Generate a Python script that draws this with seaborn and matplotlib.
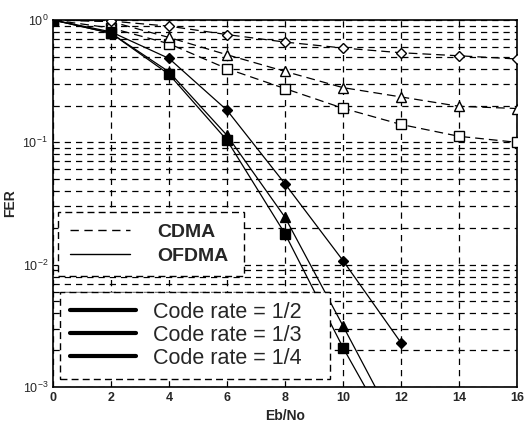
import numpy as np
import pandas as pd
import matplotlib
matplotlib.use("Agg")
import matplotlib.pyplot as plt
from matplotlib.lines import Line2D
from matplotlib.ticker import LogLocator, LogFormatterSciNotation, NullFormatter
import seaborn as sns

ebno = [0, 2, 4, 6, 8, 10, 12, 14, 16]
cdma_r12 = [1.0, 0.86, 0.64, 0.40, 0.275, 0.19, 0.14, 0.112, 0.10]
cdma_r13 = [1.0, 0.97, 0.72, 0.52, 0.38, 0.28, 0.235, 0.197, 0.189]
cdma_r14 = [1.0, 0.98, 0.89, 0.76, 0.66, 0.59, 0.54, 0.51, 0.48]

ofdma_x = [0, 2, 4, 6, 8, 10, 12]
ofdma_r12 = [1.0, 0.78, 0.36, 0.104, 0.0179, 0.0021, 0.0003]
ofdma_r13 = [1.0, 0.78, 0.377, 0.114, 0.0244, 0.00316, 0.0004]
ofdma_r14 = [1.0, 0.80, 0.485, 0.183, 0.0458, 0.0108, 0.0023]

xticks = [0, 2, 4, 6, 8, 10, 12, 14, 16]

sns.set_style("white")
plt.rcParams["font.family"] = ["Liberation Sans", "DejaVu Sans"]

fig = plt.figure(figsize=(5.26, 4.30), dpi=100)
ax = fig.add_axes([53/526, 1-387/430, 464/526, 367/430])

rows = []
for name, vals in [("c12", cdma_r12), ("c13", cdma_r13), ("c14", cdma_r14)]:
    for x, v in zip(ebno, vals):
        rows.append((name, x, v))
for name, vals in [("o12", ofdma_r12), ("o13", ofdma_r13), ("o14", ofdma_r14)]:
    for x, v in zip(ofdma_x, vals):
        rows.append((name, x, v))
df = pd.DataFrame(rows, columns=["series", "ebno", "fer"])

dash = (0, (7, 4))
styles = {
    "c12": dict(marker="s", ls=dash, mfc="white", ms=6.5),
    "c13": dict(marker="^", ls=dash, mfc="white", ms=6.5),
    "c14": dict(marker="D", ls=dash, mfc="white", ms=5),
    "o12": dict(marker="s", ls="-", mfc="black", ms=6.5),
    "o13": dict(marker="^", ls="-", mfc="black", ms=6.5),
    "o14": dict(marker="D", ls="-", mfc="black", ms=5),
}
for name, st in styles.items():
    sub = df[df.series == name]
    sns.lineplot(data=sub, x="ebno", y="fer", ax=ax, color="black", lw=0.9,
                 marker=st["marker"], linestyle=st["ls"], markerfacecolor=st["mfc"],
                 markeredgecolor="black", markeredgewidth=1.0, markersize=st["ms"],
                 estimator=None, sort=False, legend=False, zorder=3)

ax.set_yscale("log")
ax.set_xlim(0, 16)
ax.set_ylim(1e-3, 1)
ax.set_xticks(xticks)
ax.set_xticklabels([str(t) for t in xticks], fontweight="bold", fontsize=9)
ax.yaxis.set_major_locator(LogLocator(base=10, numticks=10))
ax.yaxis.set_minor_locator(LogLocator(base=10, subs=np.arange(2, 10), numticks=20))
ax.yaxis.set_minor_formatter(NullFormatter())
ax.yaxis.set_major_formatter(LogFormatterSciNotation())
for lab in ax.get_yticklabels():
    lab.set_fontsize(9)
ax.grid(True, which="major", color="black", linestyle=(0, (5, 4)), linewidth=0.9)
ax.grid(True, which="minor", axis="y", color="black", linestyle=(0, (5, 4)), linewidth=0.9)
ax.tick_params(which="both", direction="in", length=3, color="black")
for s in ax.spines.values():
    s.set_color("black")
    s.set_linewidth(1.2)
ax.set_xlabel("Eb/No", fontweight="bold", fontsize=10)
ax.set_ylabel("FER", fontweight="bold", fontsize=10)

h1 = [Line2D([], [], color="black", lw=1.0, ls=(0, (6, 4))),
      Line2D([], [], color="black", lw=1.0, ls="-")]
leg1 = ax.legend(h1, ["CDMA", "OFDMA"], loc="upper left",
                 bbox_to_anchor=(0.011, 0.297, 0.40, 0.18), mode="expand",
                 prop=dict(weight="bold", size=14), handlelength=3.1, fancybox=False,
                 framealpha=1, edgecolor="black", borderpad=0.6, labelspacing=0.3,
                 handletextpad=1.4, borderaxespad=0)
leg1.get_frame().set_linestyle((0, (5, 3)))
leg1.get_frame().set_linewidth(1.0)
ax.add_artist(leg1)

h2 = [Line2D([], [], color="black", lw=3.0, ls="-") for _ in range(3)]
leg2 = ax.legend(h2, ["Code rate = 1/2", "Code rate = 1/3", "Code rate = 1/4"],
                 loc="upper left", bbox_to_anchor=(0.015, 0.019, 0.582, 0.24), mode="expand",
                 prop=dict(size=15.5), handlelength=3.1, fancybox=False,
                 framealpha=1, edgecolor="black", borderpad=0.45, labelspacing=0.1,
                 handletextpad=0.75, borderaxespad=0)
leg2.get_frame().set_linestyle((0, (5, 3)))
leg2.get_frame().set_linewidth(1.0)

fig.savefig("out.png", dpi=100)
